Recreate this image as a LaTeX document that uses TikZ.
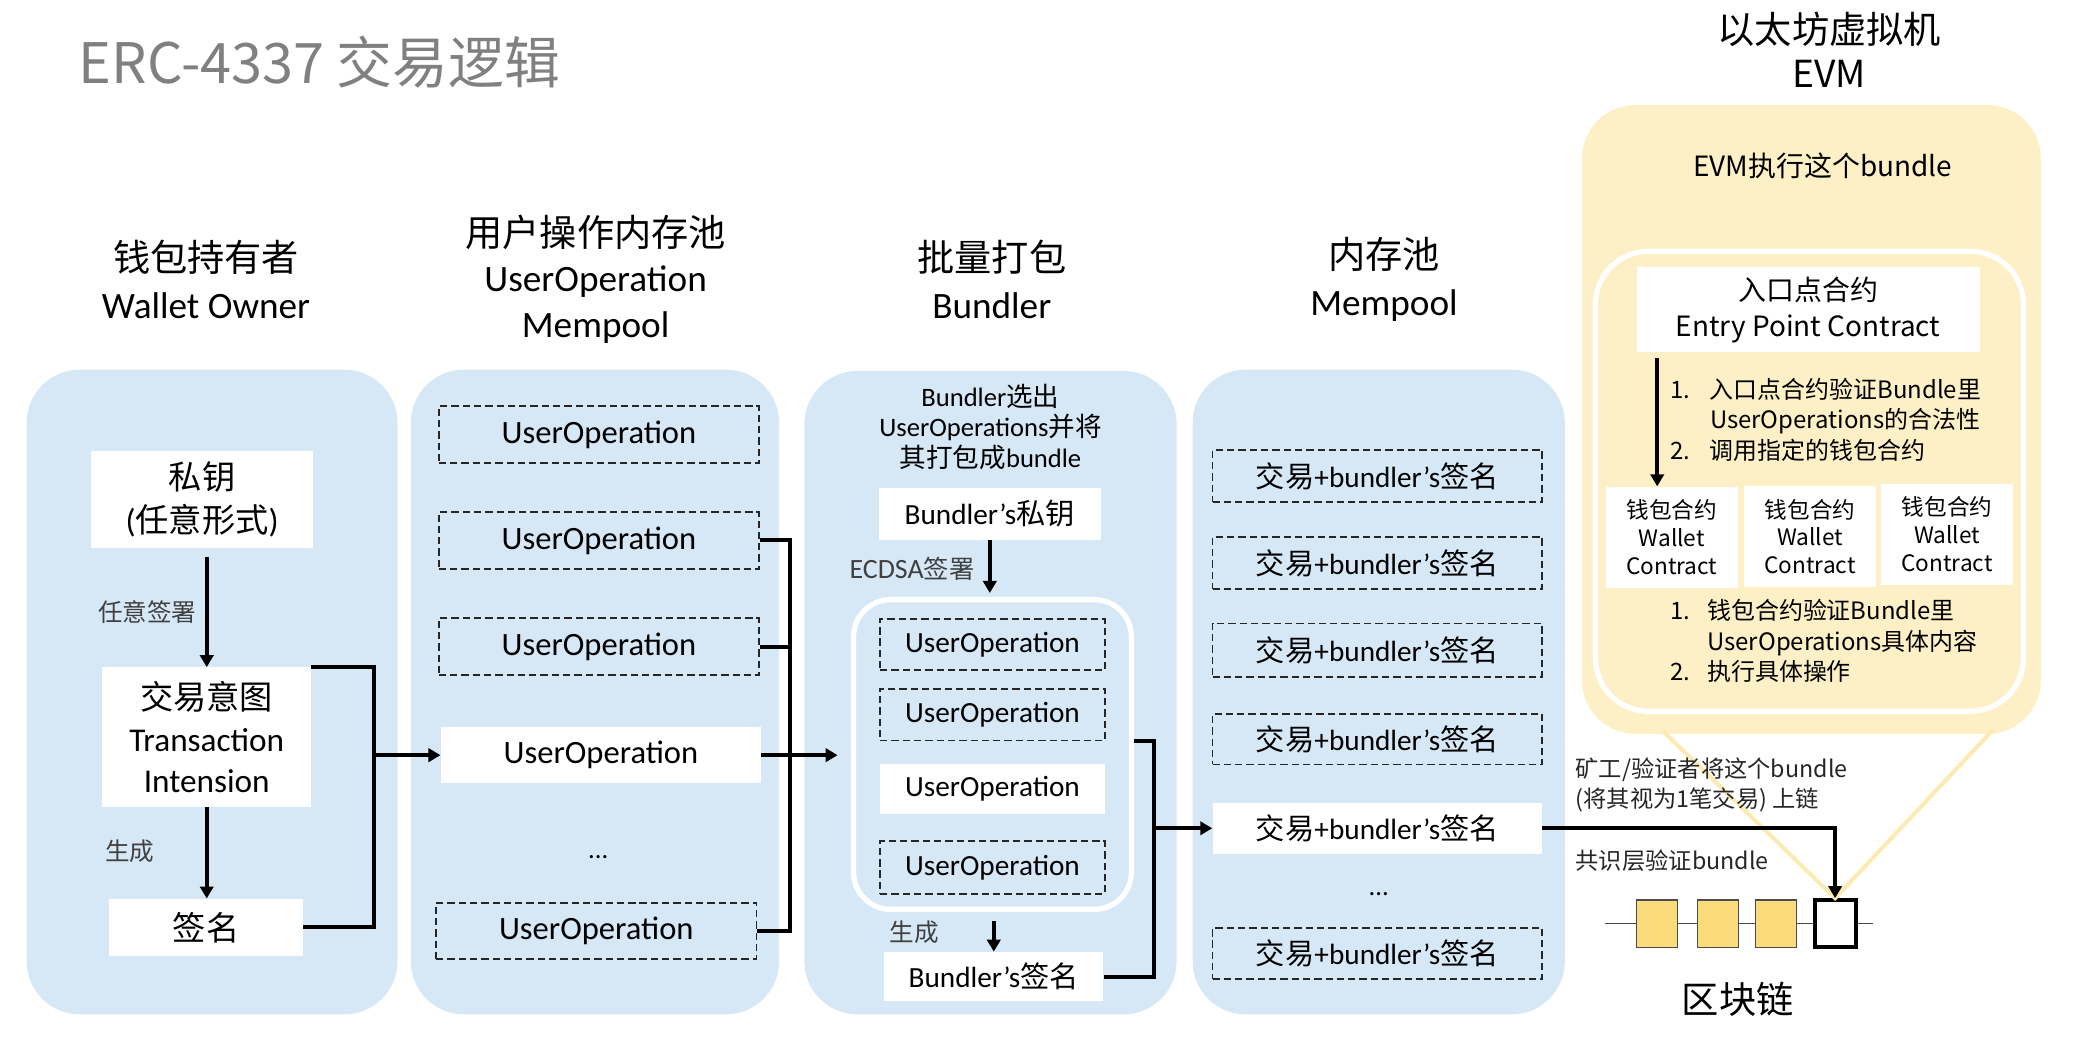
\documentclass[tikz,border=0pt]{standalone}
\usepackage{fontspec}
\setmainfont{Carlito}
\newfontfamily\zh{Noto Sans CJK SC}
\usetikzlibrary{arrows.meta}
\definecolor{panelblue}{RGB}{214,232,246}
\definecolor{evmyellow}{RGB}{253,240,198}
\definecolor{funnelyellow}{RGB}{252,234,176}
\definecolor{blockyellow}{RGB}{252,219,124}
\definecolor{titlegray}{RGB}{128,128,128}
\definecolor{notegray}{RGB}{64,64,64}
\newcommand{\txsig}{{\zh 交易}+bundler’s{\zh 签名}}

\begin{document}
\begin{tikzpicture}[x=1pt,y=-1pt,>={Triangle[length=9pt,width=10pt]},
  panel/.style={fill=panelblue,rounded corners=40pt},
  hdr/.style={font=\fontsize{28}{35}\selectfont,align=center},
  wbox/.style={fill=white,inner sep=0pt,align=center},
  dbox/.style={draw=black!85,dash pattern=on 5.5pt off 3pt,line width=1.4pt,inner sep=0pt,align=center},
  note/.style={text=notegray,font=\fontsize{19}{23}\selectfont,inner sep=0pt},
  link/.style={line width=3pt},
  uop/.style={minimum width=241pt,minimum height=43pt,font=\fontsize{24.5}{28}\selectfont},
  buop/.style={minimum width=169pt,font=\fontsize{22}{26}\selectfont},
  txop/.style={minimum width=248pt,font=\fontsize{22}{26}\selectfont},
  wallet/.style={wbox,minimum width=99pt,minimum height=76pt,font=\zh\fontsize{17}{21}\selectfont},
  blk/.style={draw=black!70,line width=1pt,fill=blockyellow,minimum width=31pt,minimum height=35.5pt,inner sep=0pt}]

\useasboundingbox (0,0) rectangle (1560,787);

% title
\node[anchor=base west,text=titlegray,font=\zh\fontsize{42}{50}\selectfont,inner sep=0pt] (title) at (59,63) {ERC-4337 交易逻辑};

% column backgrounds
\fill[panel] (20,278) rectangle (299,763);
\fill[panel] (309,278) rectangle (586,763);
\fill[panel] (605,279) rectangle (885,763);
\fill[panel] (897,278) rectangle (1177,763);
\fill[evmyellow,rounded corners=40pt] (1190,79) rectangle (1535,552);

% headers
\node[hdr] (hwallet) at (155,210) {{\zh 钱包持有者}\\Wallet Owner};
\node[hdr,font=\fontsize{28}{34.5}\selectfont] (hpool) at (448,210) {{\zh 用户操作内存池}\\UserOperation\\Mempool};
\node[hdr] (hbundler) at (746,210) {{\zh 批量打包}\\Bundler};
\node[hdr] (hmempool) at (1041,210) {{\zh 内存池}\\Mempool};
\node[hdr,font=\zh\fontsize{28}{33}\selectfont] (hevm) at (1376,37.5) {以太坊虚拟机\\EVM};

% wallet owner
\node[wbox,minimum width=167pt,minimum height=73pt,font=\fontsize{25}{32}\selectfont] (pk) at (152,375.5) {{\zh 私钥}\\({\zh 任意形式})};
\node[wbox,minimum width=157pt,minimum height=105pt,font=\fontsize{25}{31}\selectfont] (intent) at (155.5,554.5) {{\zh 交易意图}\\Transaction\\Intension};
\node[wbox,minimum width=146pt,minimum height=43pt,font=\zh\fontsize{25}{30}\selectfont] (sig) at (155,697.5) {签名};
\draw[->,link,shorten <=7pt] (intent.north |- pk.south) -- (intent.north);
\draw[->,link] (intent.south) -- (intent.south |- sig.north);
\node[note,anchor=east,font=\zh\fontsize{18.5}{23}\selectfont] (lsign) at (148,460) {任意签署};
\node[note,anchor=west,font=\zh\fontsize{18.5}{23}\selectfont] (lgen) at (79,640) {生成};

% user operation mempool
\node[dbox,uop] (uo1) at (450.5,327) {UserOperation};
\node[dbox,uop] (uo2) at (450.5,406.5) {UserOperation};
\node[dbox,uop] (uo3) at (450.5,486.5) {UserOperation};
\node[wbox,uop,minimum height=42pt] (uo4) at (452,568) {UserOperation};
\node[font=\fontsize{20}{24}\selectfont] (dots1) at (450,645) {...};
\node[dbox,uop,minimum height=42pt] (uo5) at (448.5,700) {UserOperation};

\coordinate (jw) at (281,0);
\draw[link] (intent.north east) -| (jw |- sig.east) -- (sig.east);
\draw[->,link] (jw |- uo4.west) -- (uo4.west);

% bundler
\node[font=\fontsize{20}{23}\selectfont,align=center,inner sep=0pt] (bsel) at (745,321) {Bundler{\zh 选出}\\UserOperations{\zh 并将}\\{\zh 其打包成}bundle};
\node[wbox,minimum width=167pt,minimum height=39pt,font=\fontsize{22}{26}\selectfont] (bkey) at (744.5,386.5) {Bundler’s{\zh 私钥}};
\node[draw=white,line width=4pt,rounded corners=28pt,minimum width=209pt,minimum height=233pt] (bframe) at (746.5,567.5) {};
\node[dbox,buop,minimum height=38.5pt] (bu1) at (746.5,485) {UserOperation};
\node[dbox,buop,minimum height=39pt] (bu2) at (746.5,537.5) {UserOperation};
\node[wbox,buop,minimum height=37.5pt] (bu3) at (746.5,593.5) {UserOperation};
\node[dbox,buop,minimum height=39.5pt] (bu4) at (746.5,652.5) {UserOperation};
\node[wbox,minimum width=165pt,minimum height=37pt,font=\fontsize{22}{26}\selectfont] (bsig) at (747.5,734.5) {Bundler’s{\zh 签名}};
\draw[->,link,shorten >=3pt] (bkey.south) -- (bkey.south |- bframe.north);
\draw[->,link,shorten <=7pt] (bframe.south -| bsig.north) -- (bsig.north);
\node[note,anchor=east,font=\fontsize{21}{23}\selectfont] (lecdsa) at (733,428) {ECDSA{\zh\fontsize{19}{23}\selectfont 签署}};
\node[note,anchor=west,font=\zh\fontsize{18.5}{23}\selectfont] (lgen2) at (669,701) {生成};

\coordinate (jm) at (594,0);
\draw[link] (uo2.east) -- (jm |- uo2.east) -- (jm |- uo5.east) -- (uo5.east);
\draw[link] (uo3.east) -- (jm |- uo3.east);
\draw[->,link,shorten >=10pt] (uo4.east) -- (bframe.west |- uo4.east);

% mempool
\node[dbox,txop,minimum height=39pt] (tx1) at (1036,358) {\txsig};
\node[dbox,txop,minimum height=39pt] (tx2) at (1036,423.5) {\txsig};
\node[dbox,txop,minimum height=40pt] (tx3) at (1036,489) {\txsig};
\node[dbox,txop,minimum height=38pt] (tx4) at (1036,556) {\txsig};
\node[wbox,txop,minimum height=38pt] (tx5) at (1036,623) {\txsig};
\node[font=\fontsize{20}{24}\selectfont] (dots2) at (1037,672.6) {...};
\node[dbox,txop,minimum height=38.6pt] (tx6) at (1036,717.3) {\txsig};

\coordinate (jb) at (868,0);
\draw[link] (bframe.east |- bu2.south) -| (jb |- bsig.east) -- (bsig.east);
\draw[->,link] (jb |- tx5.west) -- (tx5.west);

% EVM
\node[font=\zh\fontsize{21}{25}\selectfont] (evmrun) at (1371,125) {EVM执行这个bundle};
\node[draw=white,line width=4pt,rounded corners=40pt,minimum width=322pt,minimum height=346pt] (eframe) at (1361,362) {};
\node[wbox,minimum width=258pt,minimum height=64pt,font=\zh\fontsize{21}{27}\selectfont] (entry) at (1360,233) {入口点合约\\Entry Point Contract};
\node[anchor=west,font=\zh\fontsize{18}{23}\selectfont,inner sep=0pt] (vlist) at (1256,318) {\begin{tabular}{@{}p{30pt}@{}l@{}}1.&入口点合约验证Bundle里\\&UserOperations的合法性\\2.&调用指定的钱包合约\end{tabular}};
\node[wallet] (wc1) at (1257.5,404) {钱包合约\\Wallet\\Contract};
\node[wallet] (wc2) at (1361.5,403.6) {钱包合约\\Wallet\\Contract};
\node[wallet] (wc3) at (1464.5,401.8) {钱包合约\\Wallet\\Contract};
\node[anchor=west,font=\zh\fontsize{18}{23}\selectfont,inner sep=0pt] (xlist) at (1256,484.5) {\begin{tabular}{@{}p{28pt}@{}l@{}}1.&钱包合约验证Bundle里\\&UserOperations具体内容\\2.&执行具体操作\end{tabular}};
\coordinate (ea) at (1246.5,0);
\draw[->,link,shorten <=4pt] (ea |- entry.south) -- (ea |- wc1.north);

% blockchain
\coordinate (cl) at (1207,694.5);
\coordinate (cr) at (1409,694.5);
\draw[black!70,line width=1pt] (cl) -- (cr);
\node[blk] (blk1) at (1246.3,694.8) {};
\node[blk] (blk2) at (1292.2,694.8) {};
\node[blk] (blk3) at (1336,694.8) {};
\node[blk,fill=white,draw=black,line width=3pt] (blk4) at (1380.3,694.8) {};
\coordinate (fl) at (1251,550);
\coordinate (fr) at (1499,549);
\draw[funnelyellow,line width=3pt] (fl) -- (blk4.north) -- (fr);
\draw[->,link] (tx5.east) -| (blk4.north);
\node[font=\zh\fontsize{28}{32}\selectfont] (chain) at (1307,752) {区块链};
\node[note,anchor=west,align=left,text=black!85,font=\zh\fontsize{17.5}{23}\selectfont] (lminer) at (1185,590.5) {矿工/验证者将这个bundle\\(将其视为1笔交易) 上链};
\node[note,anchor=west,text=black!85,font=\zh\fontsize{17.5}{23}\selectfont] (lcons) at (1185,647) {共识层验证bundle};
\end{tikzpicture}
\end{document}
